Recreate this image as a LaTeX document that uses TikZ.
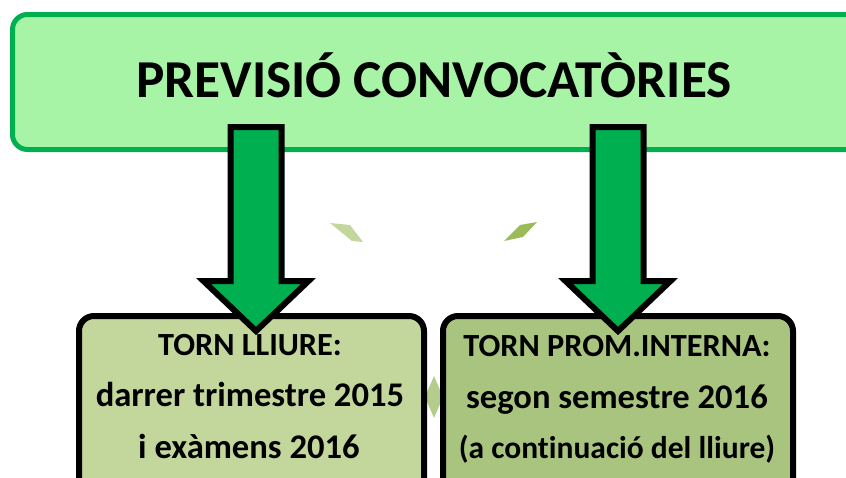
\documentclass[tikz,border=0pt]{standalone}
\usepackage{fontspec}
\setmainfont{Carlito}[Ligatures=NoCommon]
\definecolor{topfill}{HTML}{A8F4A6}
\definecolor{topborder}{HTML}{00B050}
\definecolor{arrowfill}{HTML}{00B050}
\definecolor{leftfill}{HTML}{C3D69B}
\definecolor{rightfill}{HTML}{A9C47F}
\definecolor{decolight}{HTML}{C3D69B}
\definecolor{decodark}{HTML}{9BBB59}
\definecolor{decomid}{HTML}{B4CC8C}
\tikzset{
  topbox/.style={draw=topborder, fill=topfill, line width=5pt, rounded corners=15pt},
  lowbox/.style={draw=black, line width=6pt, rounded corners=15pt},
  blockarrow/.style={draw=black, fill=arrowfill, line width=6pt, line join=miter},
  headtxt/.style={anchor=base, font=\bfseries\fontsize{32.3}{32.3}\selectfont, inner sep=0pt},
  bodytxt/.style={anchor=base, font=\bfseries\fontsize{34.6}{34.6}\selectfont, inner sep=0pt},
  smalltxt/.style={anchor=base, font=\bfseries\fontsize{31.5}{31.5}\selectfont, inner sep=0pt},
}
\newcommand{\drawblockarrow}[5]{% x, ytop, yhead, ytip, halfshaft
  \path[blockarrow] (#1-#5,#2) -- (#1+#5,#2) -- (#1+#5,#3) -- (#1+52.5,#3) -- (#1,#4) -- (#1-52.5,#3) -- (#1-#5,#3) -- cycle;}
\begin{document}
\begin{tikzpicture}[x=1pt,y=-1pt]
\useasboundingbox (0,0) rectangle (846,477);
\clip (0,0) rectangle (846,477);
% top box
\path[topbox] (12.5,14.5) rectangle (880,149.5);
\node[inner sep=0pt, anchor=base, font=\bfseries\fontsize{53.3}{53.3}\selectfont] (title) at (434,97) {PREVISIÓ CONVOCATÒRIES};
% decorations
\fill[decolight] (330,223) -- (350,225) -- (363,242) -- (352,241) -- cycle;
\fill[decodark] (537,222) -- (520,225) -- (504,241) -- (523,237) -- cycle;
\fill[decomid] (434,376) -- (443,397) -- (434,418) -- (425,397) -- cycle;
% bottom boxes
\path[lowbox, fill=leftfill] (79,316) rectangle (424,530);
\path[lowbox, fill=rightfill] (443,316) rectangle (793,530);
\node[headtxt] (l1) at (250,355) {TORN LLIURE:};
\node[bodytxt] (l2) at (250,406) {darrer trimestre 2015};
\node[bodytxt] (l3) at (249,458) {i exàmens 2016};
\node[headtxt] (r1) at (617,356.5) {TORN PROM.INTERNA:};
\node[bodytxt] (r2) at (617,408) {segon semestre 2016};
\node[smalltxt] (r3) at (617,458) {(a continuació del lliure)};
% arrows
\drawblockarrow{256}{127}{281}{331}{25.5}
\drawblockarrow{618}{127}{281}{331}{25.5}
\end{tikzpicture}
\end{document}
